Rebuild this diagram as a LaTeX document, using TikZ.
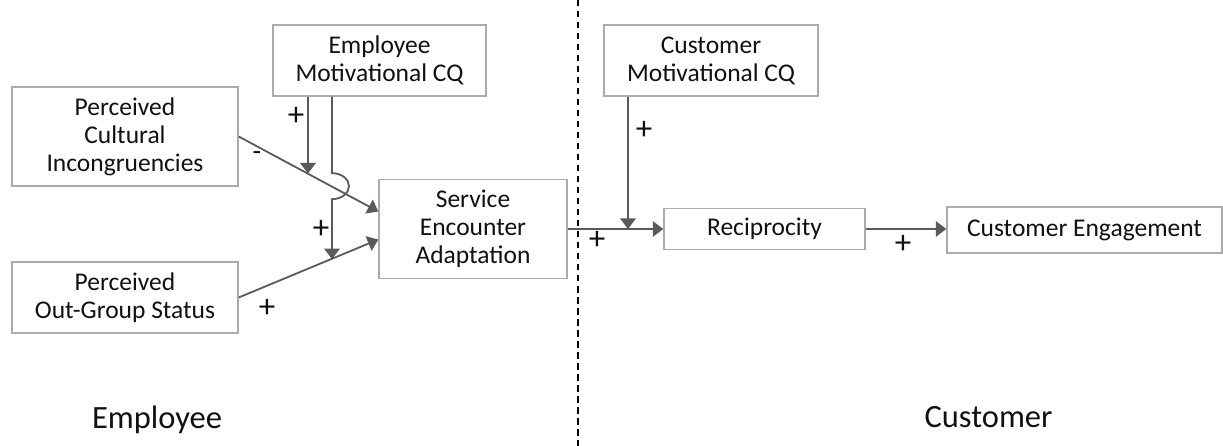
\documentclass[tikz,border=0pt]{standalone}
\usepackage{fontspec}
\setmainfont{Carlito}
\usetikzlibrary{arrows.meta,calc}

\definecolor{boxgray}{HTML}{ABABAB}
\definecolor{linegray}{HTML}{5A5A5A}
\definecolor{inkblack}{HTML}{111111}

\tikzset{
  box/.style={draw=boxgray, line width=1.4pt, fill=white, inner sep=0pt,
              align=center, text=inkblack,
              font=\fontsize{25.5}{28}\selectfont},
  conn/.style={draw=linegray, line width=1.8pt,
               -{Triangle[length=10.5pt,width=15.5pt]}},
  sign/.style={inner sep=0pt, text=inkblack,
               font=\fontsize{33}{36}\selectfont},
  minus/.style={inner sep=0pt, text=inkblack,
               font=\fontsize{28}{30}\selectfont},
  side/.style={inner sep=0pt, anchor=base, text=inkblack,
               font=\fontsize{32.5}{36}\selectfont},
  divider/.style={draw=black, line width=2pt, dash pattern=on 6.5pt off 4.5pt}
}

\begin{document}
\begin{tikzpicture}[x=1pt, y=-1pt]
  \useasboundingbox (0,0) rectangle (1223,446);

  % dividing line between the two sides
  \coordinate (divtop) at (578,0);
  \coordinate (divbot) at (578,446);
  \draw[divider] (divtop) -- (divbot);

  % employee side
  \node[box, minimum width=213pt, minimum height=71pt] (emcq) at (379.5,60.5)
    {Employee\\Motivational CQ};
  \node[box, minimum width=226pt, minimum height=99pt] (pci) at (125,136.5)
    {Perceived\\Cultural\\Incongruencies};
  \node[box, minimum width=226pt, minimum height=71pt] (pos) at (125,297.5)
    {Perceived\\Out-Group Status};
  \node[box, minimum width=188pt, minimum height=99pt] (sea) at (473,229)
    {Service\\Encounter\\Adaptation};

  % customer side
  \node[box, minimum width=214pt, minimum height=71pt] (cmcq) at (711,60.5)
    {Customer\\Motivational CQ};
  \node[box, minimum width=201pt, minimum height=41pt] (rec) at (764.5,229)
    {Reciprocity};
  \node[box, minimum width=275pt, minimum height=46pt] (ce) at (1084.5,230)
    {Customer Engagement};

  % inputs into the adaptation box
  \coordinate (seaInA) at ([yshift=17.5pt]sea.west);
  \coordinate (seaInB) at ([yshift=-10.5pt]sea.west);
  \draw[conn] (pci.east) -- (seaInA);
  \draw[conn] (pos.east) -- (seaInB);

  % moderating paths of employee motivational CQ
  \coordinate (modA) at ($(pci.east)!0.493!(seaInA)$);
  \coordinate (hop)  at ($(pci.east)!0.662!(seaInA)$);
  \coordinate (modB) at ($(pos.east)!0.662!(seaInB)$);
  \coordinate (emcqA) at ([xshift=-71.5pt]emcq.south);
  \coordinate (emcqB) at ([xshift=-47.5pt]emcq.south);
  \draw[conn] (emcqA) -- (emcqA |- modA);
  \draw[conn] (emcqB) -- ([yshift=13pt]emcqB |- hop)
     arc[start angle=90, end angle=-90, x radius=17pt, y radius=13pt]
     -- (emcqB |- modB);

  % adaptation -> reciprocity -> engagement
  \draw[conn] (sea.east) -- (sea.east -| rec.west);
  \draw[conn] (rec.east) -- (rec.east -| ce.west);

  % moderating path of customer motivational CQ
  \coordinate (cmcqA) at ([xshift=-83pt]cmcq.south);
  \draw[conn] (cmcqA) -- (cmcqA |- sea.east);

  % signs of the effects
  \node[sign] (s1) at (296,116) {+};
  \node[minus] (s2) at (257,156) {-};
  \node[sign] (s3) at (321,229) {+};
  \node[sign] (s4) at (267,308) {+};
  \node[sign] (s5) at (597,240) {+};
  \node[sign] (s6) at (644,130) {+};
  \node[sign] (s7) at (903,244) {+};

  % side captions
  \node[side] (empl) at (157,428) {Employee};
  \node[side] (cust) at (988.5,427) {Customer};
\end{tikzpicture}
\end{document}
